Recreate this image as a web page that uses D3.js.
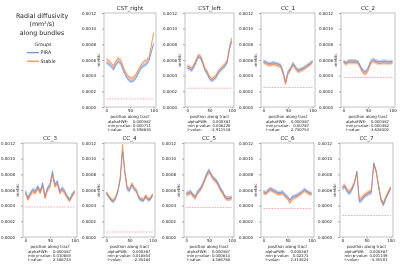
<!DOCTYPE html>
<html><head><meta charset="utf-8">
<script src="https://cdn.jsdelivr.net/npm/d3@7"></script>
<style>body{margin:0;background:#fff}svg{display:block;font-family:"DejaVu Sans",sans-serif;will-change:transform;opacity:0.999}</style>
</head><body><svg id="c" width="400" height="267"></svg>
<script>
const positions = [0,5,10,15,20,25,30,35,40,45,50,55,60,65,70,75,80,85,90,95,100];
const bundles = ["CST_right","CST_left","CC_1","CC_2","CC_3","CC_4","CC_5","CC_6","CC_7"];
const yTicks = [0,0.0002,0.0004,0.0006,0.0008,0.0010,0.0012];
const xTicks = [0,50,100];
const groups = ["PIRA","Stable"];

const piraCST_right = [0.000565,0.00055,0.00052,0.00048,0.00054,0.00058,0.00056,0.00048,0.00041,0.00036,0.00033,0.00033,0.00035,0.00040,0.00046,0.00051,0.00053,0.00055,0.00059,0.00070,0.00081];
const stableCST_right = [0.00061,0.00059,0.00056,0.00052,0.00058,0.00062,0.00060,0.00052,0.00045,0.00040,0.00037,0.00037,0.00039,0.00044,0.00050,0.00055,0.00058,0.00059,0.00063,0.00078,0.00095];
const piraCST_left = [0.000497,0.000488,0.000467,0.00051,0.000574,0.000638,0.000625,0.000553,0.000467,0.000424,0.00036,0.000338,0.000351,0.000381,0.000437,0.000467,0.000497,0.000523,0.000574,0.000745,0.00084];
const stableCST_left = [0.000523,0.000514,0.000493,0.000536,0.0006,0.000664,0.000651,0.000579,0.000493,0.00045,0.000386,0.000364,0.000377,0.000407,0.000463,0.000493,0.000523,0.000549,0.0006,0.000771,0.000879];
const piraCC_1 = [0.000587,0.000574,0.000557,0.000557,0.000566,0.000557,0.000549,0.000536,0.00045,0.000321,0.00045,0.000493,0.000557,0.000514,0.000471,0.00048,0.000493,0.000514,0.000536,0.000557,0.000587];
const stableCC_1 = [0.000566,0.000553,0.000536,0.000536,0.000544,0.000536,0.000527,0.000514,0.000424,0.00029,0.000424,0.000471,0.000536,0.000493,0.00045,0.000463,0.000476,0.000497,0.000519,0.00054,0.000574];
const piraCC_2 = [0.000587,0.000566,0.000587,0.000591,0.000587,0.000587,0.000579,0.000514,0.000463,0.00045,0.000493,0.000579,0.000609,0.000591,0.000579,0.000579,0.000583,0.000583,0.000579,0.000579,0.000583];
const stableCC_2 = [0.000566,0.000549,0.000566,0.000566,0.000566,0.000566,0.000557,0.00049,0.000433,0.00042,0.000463,0.000549,0.000583,0.00057,0.000557,0.000557,0.000562,0.000562,0.000557,0.000557,0.000566];
const piraCC_3 = [0.000583,0.000498,0.000562,0.000604,0.000583,0.000647,0.000583,0.000689,0.000519,0.000626,0.000668,0.000838,0.000668,0.000711,0.000583,0.000626,0.000583,0.000519,0.000477,0.00054,0.000583];
const stableCC_3 = [0.00056,0.000475,0.000535,0.00058,0.00056,0.00062,0.00056,0.00065,0.000495,0.0006,0.00064,0.0008,0.00064,0.00068,0.00056,0.0006,0.00056,0.0005,0.000465,0.00052,0.000575];
const piraCC_4 = [0.000557,0.000514,0.000471,0.00045,0.000493,0.000579,0.000729,0.001093,0.000814,0.000609,0.000591,0.000664,0.000609,0.000579,0.000493,0.000471,0.000463,0.000514,0.000471,0.00048,0.000536];
const stableCC_4 = [0.000575,0.00053,0.000485,0.000462,0.00051,0.0006,0.00076,0.00118,0.00084,0.000635,0.00061,0.000685,0.00063,0.0006,0.00051,0.000488,0.00048,0.00053,0.000488,0.000495,0.00055];
const piraCC_5 = [0.000557,0.000566,0.000579,0.000536,0.000514,0.000579,0.000609,0.000664,0.000729,0.000806,0.000857,0.000793,0.00075,0.000729,0.000686,0.000621,0.000579,0.000514,0.000493,0.000493,0.000506];
const stableCC_5 = [0.000545,0.00055,0.000565,0.00052,0.000495,0.000565,0.00059,0.000645,0.00071,0.000785,0.000825,0.00079,0.000735,0.00071,0.000665,0.0006,0.00056,0.000505,0.000485,0.00049,0.0005];
const piraCC_6 = [0.000579,0.000566,0.0006,0.000621,0.0006,0.000587,0.000566,0.000566,0.000579,0.000536,0.000514,0.000471,0.000514,0.000523,0.000536,0.000557,0.000579,0.000609,0.000587,0.000566,0.000557];
const stableCC_6 = [0.000562,0.000548,0.00058,0.0006,0.000582,0.000565,0.000545,0.000548,0.000555,0.000515,0.00049,0.000435,0.000485,0.0005,0.000515,0.000538,0.00056,0.00059,0.00057,0.00055,0.000545];
const piraCC_7 = [0.000621,0.000643,0.000579,0.000557,0.000609,0.000686,0.000836,0.00045,0.000471,0.000514,0.000536,0.000557,0.000566,0.000943,0.000836,0.000643,0.000471,0.000407,0.000493,0.000557,0.000621];
const stableCC_7 = [0.00064,0.00066,0.0006,0.00058,0.00063,0.0007,0.00082,0.00048,0.0005,0.000535,0.000555,0.000575,0.000585,0.00092,0.00085,0.00066,0.00049,0.00043,0.00051,0.00057,0.000635];

const bandHalfWidth = [0.000025,0.000025,0.000025,0.000025,0.00003,0.000025,0.00003,0.000025,0.00003];
const thresholds = [0.000103,0.00024,0.000249,0.000377,0.000383,0.000064,0.000377,0.000364,0.000274];
const alphaFWE = ["0.000387","0.000387","0.000387","0.000387","0.000387","0.000387","0.000387","0.000387","0.000387"];
const minP = ["0.000711","0.006226","0.00787","0.000482","0.010883","0.018854","0.000814","0.02271","0.001149"];
const tValue = ["-3.598835","-2.911518","2.750754","3.628302","2.586743","-2.35484","3.586788","2.313624","-3.35501"];

const piraSeries = [piraCST_right,piraCST_left,piraCC_1,piraCC_2,piraCC_3,piraCC_4,piraCC_5,piraCC_6,piraCC_7];
const stableSeries = [stableCST_right,stableCST_left,stableCC_1,stableCC_2,stableCC_3,stableCC_4,stableCC_5,stableCC_6,stableCC_7];

// layout (pixel boxes of each panel)
const boxes = [[104,156,13,107],[185,234,13,107],[261,315,13,107],[341,395,13,107],
               [23,77,143,237],[104,155,143,237],[184,234,143,237],[261,314,143,237],[340,393,143,237]];
const colors = {PIRA:"#5b84d6", Stable:"#ee7d3a"};
const bandColors = {PIRA:"rgba(91,132,214,0.32)", Stable:"rgba(238,125,58,0.32)"};

const svg = d3.select("#c");
svg.append("rect").attr("width",400).attr("height",267).attr("fill","#fff");

const tt = svg.append("text").attr("x",42).attr("text-anchor","middle").attr("font-size",6.3).attr("fill","#222");
tt.append("tspan").attr("x",42).attr("y",17.5).text("Radial diffusivity");
const l2 = tt.append("tspan").attr("x",42).attr("y",26);
l2.append("tspan").text("(mm");
l2.append("tspan").attr("font-size",3.8).attr("dy",-2.5).text("2");
l2.append("tspan").attr("dy",2.5).text("/s)");
tt.append("tspan").attr("x",42).attr("y",34.5).text("along bundles");
svg.append("text").attr("x",43).attr("y",46).attr("text-anchor","middle").attr("font-size",4.8).attr("fill","#222").text("Groups");
groups.forEach((g,i)=>{
  const y = 52.7 + i*8.5;
  svg.append("line").attr("x1",27).attr("x2",39).attr("y1",y).attr("y2",y).attr("stroke",colors[g]).attr("stroke-width",1.1);
  svg.append("text").attr("x",40.5).attr("y",y+1.7).attr("font-size",4.8).attr("fill","#222").text(g);
});

bundles.forEach((name,i)=>{
  const [x0,x1,y0,y1] = boxes[i];
  const x = d3.scaleLinear().domain([-5,105]).range([x0,x1]);
  const y = d3.scaleLinear().domain([0,0.0012]).range([y1,y0]);
  const g = svg.append("g");
  const clipId = "clip"+i;
  g.append("clipPath").attr("id",clipId).append("rect").attr("x",x0).attr("y",y0).attr("width",x1-x0).attr("height",y1-y0);
  const plot = g.append("g").attr("clip-path",`url(#${clipId})`);
  plot.append("line").attr("x1",x(0)).attr("x2",x(100)).attr("y1",y(thresholds[i])).attr("y2",y(thresholds[i]))
    .attr("stroke","#f07070").attr("stroke-width",0.7).attr("stroke-dasharray","1.6,1.2").attr("opacity",0.85);
  const series = [["PIRA",piraSeries[i]],["Stable",stableSeries[i]]];
  const hw = bandHalfWidth[i];
  series.forEach(([gname,vals])=>{
    const area = d3.area().x((d,j)=>x(positions[j])).y0(d=>y(d-hw)).y1(d=>y(d+hw));
    plot.append("path").attr("d",area(vals)).attr("fill",bandColors[gname]);
  });
  series.forEach(([gname,vals])=>{
    const line = d3.line().x((d,j)=>x(positions[j])).y(d=>y(d));
    plot.append("path").attr("d",line(vals)).attr("fill","none").attr("stroke",colors[gname]).attr("stroke-width",0.7);
  });
  const ya = g.append("g").attr("transform",`translate(${x0},0)`)
    .call(d3.axisLeft(y).tickValues(yTicks).tickFormat(d3.format(".4f")).tickSize(2).tickPadding(6));
  const xa = g.append("g").attr("transform",`translate(0,${y1})`)
    .call(d3.axisBottom(x).tickValues(xTicks).tickSize(1.5).tickPadding(0.5));
  [ya,xa].forEach(a=>{
    a.select(".domain").remove();
    a.selectAll("line").attr("stroke","#555").attr("stroke-width",0.5);
    a.selectAll("text").attr("font-size",4).attr("fill","#222").attr("font-family","DejaVu Sans");
  });
  g.append("rect").attr("x",x0).attr("y",y0).attr("width",x1-x0).attr("height",y1-y0)
    .attr("fill","none").attr("stroke","#999").attr("stroke-width",0.6);
  g.append("text").attr("x",(x0+x1)/2).attr("y",y0-3).attr("text-anchor","middle").attr("font-size",5.5).attr("fill","#222").text(name);
  g.append("text").attr("transform",`translate(${x0-4},${(y0+y1)/2}) rotate(-90)`).attr("text-anchor","middle").attr("font-size",4).attr("fill","#222").text("metric");
  g.append("text").attr("x",(x0+x1)/2).attr("y",y1+10.5).attr("text-anchor","middle").attr("font-size",4).attr("fill","#222").text("position along tract");
  const labels = ["alphaFWE:","min p-value:","t-value:"];
  const vals = [alphaFWE[i],minP[i],tValue[i]];
  const cx = (x0+x1)/2;
  labels.forEach((lab,k)=>{
    const yy = y1+15.5+k*4.3;
    g.append("text").attr("x",cx-22).attr("y",yy).attr("font-size",3.8).attr("fill","#222").text(lab);
    g.append("text").attr("x",cx+21).attr("y",yy).attr("text-anchor","end").attr("font-size",3.8).attr("fill","#222").text(vals[k]);
  });
});
</script></body></html>
